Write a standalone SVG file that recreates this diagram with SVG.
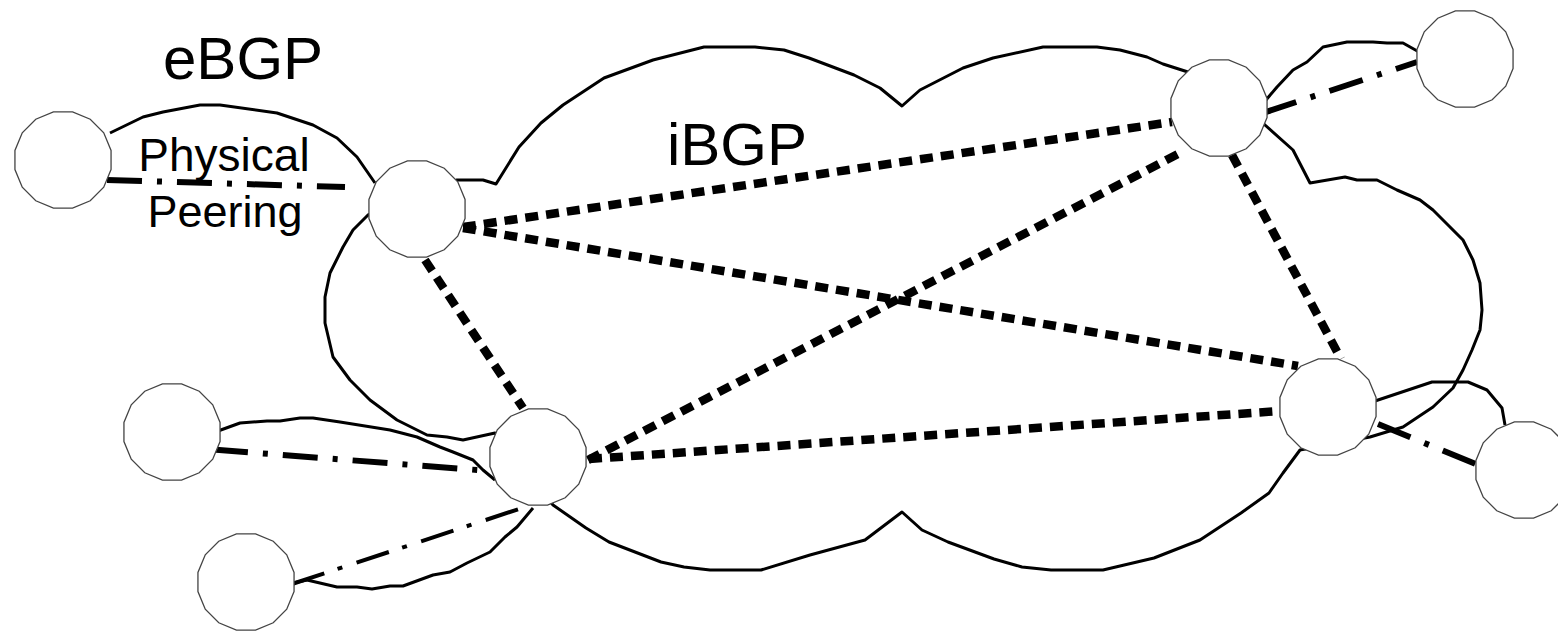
<svg xmlns="http://www.w3.org/2000/svg" xmlns:xlink="http://www.w3.org/1999/xlink" width="1558" height="633" viewBox="0 0 1558 633">
  <style>
    .outline { fill: none; stroke: #000; stroke-width: 3; stroke-linejoin: round; }
    .ibgp { fill: none; stroke: #000; stroke-width: 8.5; stroke-dasharray: 13 8; stroke-linejoin: round; }
    .ebgp { fill: none; stroke: #000; stroke-width: 6; stroke-dasharray: 35 15 5 15; }
    .ebgp-thin { fill: none; stroke: #000; stroke-width: 4; stroke-dasharray: 34 14 5 15; }
    .router { fill: #fff; stroke: #444; stroke-width: 1.3; }
    .label { font-family: "Liberation Sans", Arial, sans-serif; fill: #000; }
  </style>
  <defs>
    <!-- router: 16-sided polygon, radius 49 -->
    <polygon id="router" class="router" points="48.06,9.56 40.74,27.22 27.22,40.74 9.56,48.06 -9.56,48.06 -27.22,40.74 -40.74,27.22 -48.06,9.56 -48.06,-9.56 -40.74,-27.22 -27.22,-40.74 -9.56,-48.06 9.56,-48.06 27.22,-40.74 40.74,-27.22 48.06,-9.56"/>
  </defs>
  <rect width="1558" height="633" fill="#fff"/>

  <!-- AS cloud -->
  <g id="cloud">
    <path class="outline" d="M457,180 L483,180 L496,184 L519,147 L541,123 L563,105 L604,78 L653,60 L704,47 L755,47 L784,50 L809,58 L854,75 L880,88 L902,106 L920,90 L963,68 L993,58 L1043,47 L1097,47 L1120,50 L1147,57 L1163,64 L1188,72 L1265,125 L1293,150 L1310,183 L1345,177 L1357,180 L1377,180 L1397,190 L1420,200 L1433,210 L1450,227 L1463,240 L1473,260 L1480,283 L1482,310 L1480,330 L1472,350 L1463,370 L1453,388 L1433,407 L1403,427 L1370,437 L1300,450 L1283,473 L1269,493 L1241,513 L1200,540 L1154,558 L1103,570 L1051,570 L1022,567 L994,559 L948,542 L922,530 L902,512 L865,540 L810,555 L761,570 L710,570 L684,567 L661,562 L609,542 L586,528 L553,505 L495,433 L463,440 L447,437 L427,435 L397,420 L370,400 L350,380 L333,357 L325,323 L325,297 L330,273 L343,247 L353,230 L368,215 Z"/>
  </g>

  <!-- physical peering links -->
  <g id="physical-links">
    <path class="outline" d="M110,133 L143,117 L163,112 L200,105 L220,105 L277,113 L313,125 L337,138 L357,157 L375,183"/>
    <path class="outline" d="M218,431 L240,423 L267,421 L280,421 L300,418 L313,418 L340,422 L390,430 L417,437 L440,447 L453,452 L473,460 L483,470 L495,480"/>
    <path class="outline" d="M293,583 L307,580 L337,587 L357,587 L372,589 L390,586 L403,586 L433,575 L450,572 L467,563 L490,552 L505,537 L517,527 L533,508"/>
    <path class="outline" d="M1266,100 L1277,87 L1293,70 L1307,62 L1323,47 L1347,42 L1373,42 L1387,43 L1403,43 L1419,52"/>
    <path class="outline" d="M1375,401 L1432,382 L1468,382 L1487,390 L1497,402 L1502,408 L1505,425"/>
  </g>

  <!-- BGP sessions -->
  <g id="connectors">
    <path class="ibgp" d="M463,227 L1172,122"/>
    <path class="ibgp" d="M463,228 L1298,366"/>
    <path class="ibgp" d="M425,260 L523,408"/>
    <path class="ibgp" d="M588,460 L1182,152"/>
    <path class="ibgp" d="M589,459 L1280,411"/>
    <path class="ibgp" d="M1232,155 L1341,359"/>

    <path class="ebgp" d="M107,180 L345,187"/>
    <path class="ebgp" d="M213,449.6 L490,471"/>
    <path class="ebgp-thin" d="M292,584 L522,508"/>
    <path class="ebgp" d="M1263,113 L1417,62"/>
    <path class="ebgp" d="M1378,424 L1478,465"/>
  </g>

  <!-- routers -->
  <g id="n1"><use xlink:href="#router" x="63" y="160"/></g>
  <g id="n2"><use xlink:href="#router" x="417" y="209"/></g>
  <g id="n3"><use xlink:href="#router" x="172" y="432"/></g>
  <g id="n4"><use xlink:href="#router" x="246" y="582"/></g>
  <g id="n5"><use xlink:href="#router" x="538" y="457"/></g>
  <g id="n6"><use xlink:href="#router" x="1219" y="108"/></g>
  <g id="n7"><use xlink:href="#router" x="1465" y="59"/></g>
  <g id="n8"><use xlink:href="#router" x="1328" y="407"/></g>
  <g id="n9"><use xlink:href="#router" x="1524" y="470"/></g>

  <!-- labels -->
  <g id="labels">
    <text class="label" x="163" y="79" font-size="60">eBGP</text>
    <text class="label" x="667" y="165" font-size="60">iBGP</text>
    <text class="label" x="224" y="171" font-size="46" text-anchor="middle">Physical</text>
    <text class="label" x="225" y="227" font-size="45" text-anchor="middle">Peering</text>
  </g>
</svg>
